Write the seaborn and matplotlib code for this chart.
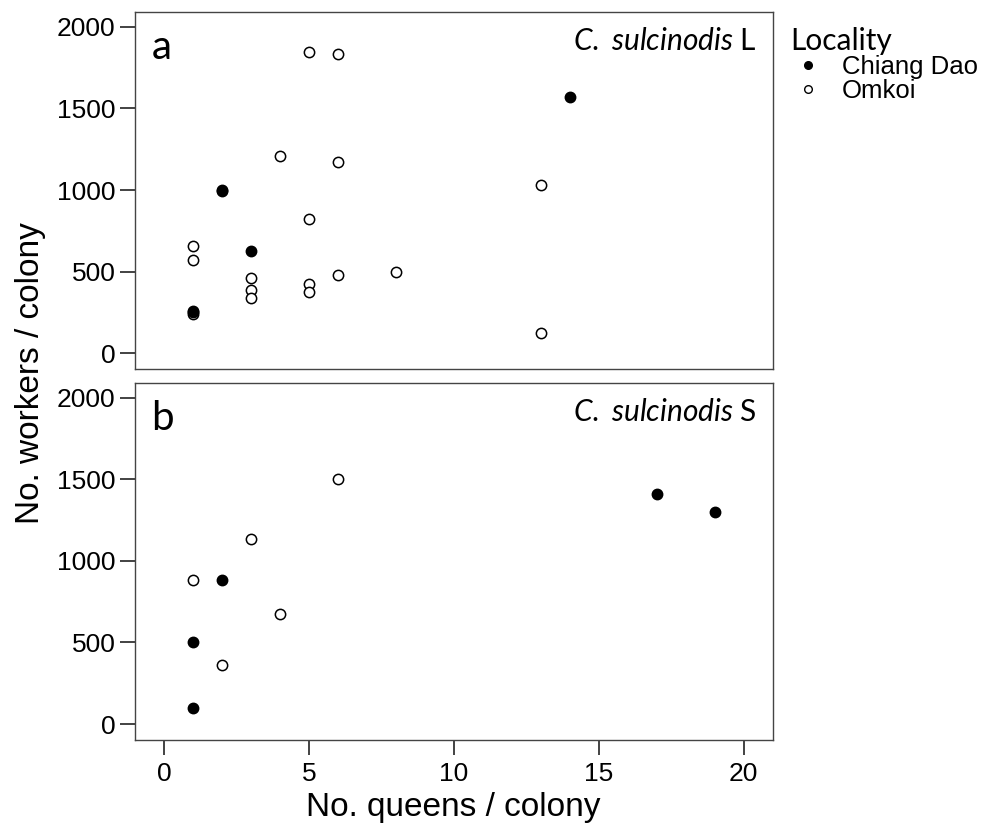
import pandas as pd
import numpy as np
import seaborn as sns
import matplotlib.pyplot as plt
from matplotlib.lines import Line2D

# values
# panel a: C. sulcinodis L
a_cd_queens = [1, 1, 2, 2, 3, 14]
a_cd_workers = [262, 250, 1000, 992, 628, 1567]
a_om_queens = [5, 6, 4, 6, 5, 1, 1, 8, 6, 3, 5, 3, 5, 3, 1, 13, 13]
a_om_workers = [1847, 1833, 1210, 1170, 824, 655, 570, 496, 479, 459, 424, 388, 377, 337, 240, 1030, 126]
# panel b: C. sulcinodis S
b_cd_queens = [2, 1, 1, 17, 19]
b_cd_workers = [880, 500, 98, 1410, 1300]
b_om_queens = [6, 3, 1, 4, 2]
b_om_workers = [1500, 1135, 880, 677, 363]

localities = ['Chiang Dao', 'Omkoi']
x_ticks = [0, 5, 10, 15, 20]
y_ticks = [0, 500, 1000, 1500, 2000]

df = pd.concat([
    pd.DataFrame({'queens': a_cd_queens, 'workers': a_cd_workers, 'Locality': 'Chiang Dao', 'form': 'L'}),
    pd.DataFrame({'queens': a_om_queens, 'workers': a_om_workers, 'Locality': 'Omkoi', 'form': 'L'}),
    pd.DataFrame({'queens': b_cd_queens, 'workers': b_cd_workers, 'Locality': 'Chiang Dao', 'form': 'S'}),
    pd.DataFrame({'queens': b_om_queens, 'workers': b_om_workers, 'Locality': 'Omkoi', 'form': 'S'}),
], ignore_index=True)

sns.set_style('ticks')
plt.rcParams['font.family'] = ['Liberation Sans', 'DejaVu Sans']
plt.rcParams['mathtext.fontset'] = 'custom'
plt.rcParams['mathtext.it'] = 'Lato:italic'
plt.rcParams['mathtext.rm'] = 'Lato'
plt.rcParams['text.color'] = 'black'
plt.rcParams['axes.labelcolor'] = 'black'
plt.rcParams['xtick.color'] = 'black'
plt.rcParams['ytick.color'] = 'black'

fig = plt.figure(figsize=(9.89, 8.24), dpi=100)
ax_a = fig.add_axes([0.1365, 0.5518, 0.6448, 0.434])
ax_b = fig.add_axes([0.1365, 0.1019, 0.6448, 0.4336])

face = {'Chiang Dao': 'black', 'Omkoi': 'white'}
panels = [(ax_a, 'L', 'a'), (ax_b, 'S', 'b')]
for ax, form, letter in panels:
    # open circles first so filled ones sit on top
    for loc in ['Omkoi', 'Chiang Dao']:
        sub = df[(df['form'] == form) & (df['Locality'] == loc)]
        sns.scatterplot(data=sub, x='queens', y='workers', ax=ax, s=55,
                        facecolor=face[loc], edgecolor='black', linewidth=1.1,
                        legend=False, zorder=3)
    ax.set_xlim(-1, 21)
    ax.set_ylim(-98, 2092)
    ax.set_yticks(y_ticks)
    ax.set_xticks(x_ticks)
    ax.set_xlabel('')
    ax.set_ylabel('')
    ax.tick_params(axis='both', direction='out', length=11, width=1.2,
                   labelsize=19, pad=3, color='#222222', labelcolor='black')
    for sp in ax.spines.values():
        sp.set_visible(True)
        sp.set_linewidth(1.0)
        sp.set_color('#444444')
    ax.text(0.026, 0.869, letter, transform=ax.transAxes, fontsize=29,
            family='Lato', va='baseline', ha='left')
    ax.text(0.975, 0.892, r'$\it{C.\ sulcinodis}$ ' + form, transform=ax.transAxes,
            fontsize=21.5, family='Lato', va='baseline', ha='right')

ax_a.tick_params(axis='x', bottom=False, labelbottom=False)
ax_b.tick_params(axis='x', pad=5)

fig.text(0.4585, 1 - 816 / 824, 'No. queens / colony', ha='center', va='baseline', fontsize=24)
fig.text(0.031, 0.5467, 'No. workers / colony', ha='center', va='center',
         rotation=90, fontsize=24)

handles = [Line2D([], [], marker='o', linestyle='', markersize=5.5,
                  markerfacecolor=face[loc], markeredgecolor='black',
                  markeredgewidth=1.0) for loc in localities]
leg = fig.legend(handles, localities, title='Locality', loc='upper left',
                 bbox_to_anchor=(0.786, 0.983), frameon=False, borderpad=0,
                 fontsize=18.5, handletextpad=0.6, labelspacing=0.0,
                 handlelength=1.4, alignment='left')
leg.get_title().set_fontsize(21.5)
leg.get_title().set_family('Lato')

plt.savefig('out.png', dpi=100)
plt.close()
